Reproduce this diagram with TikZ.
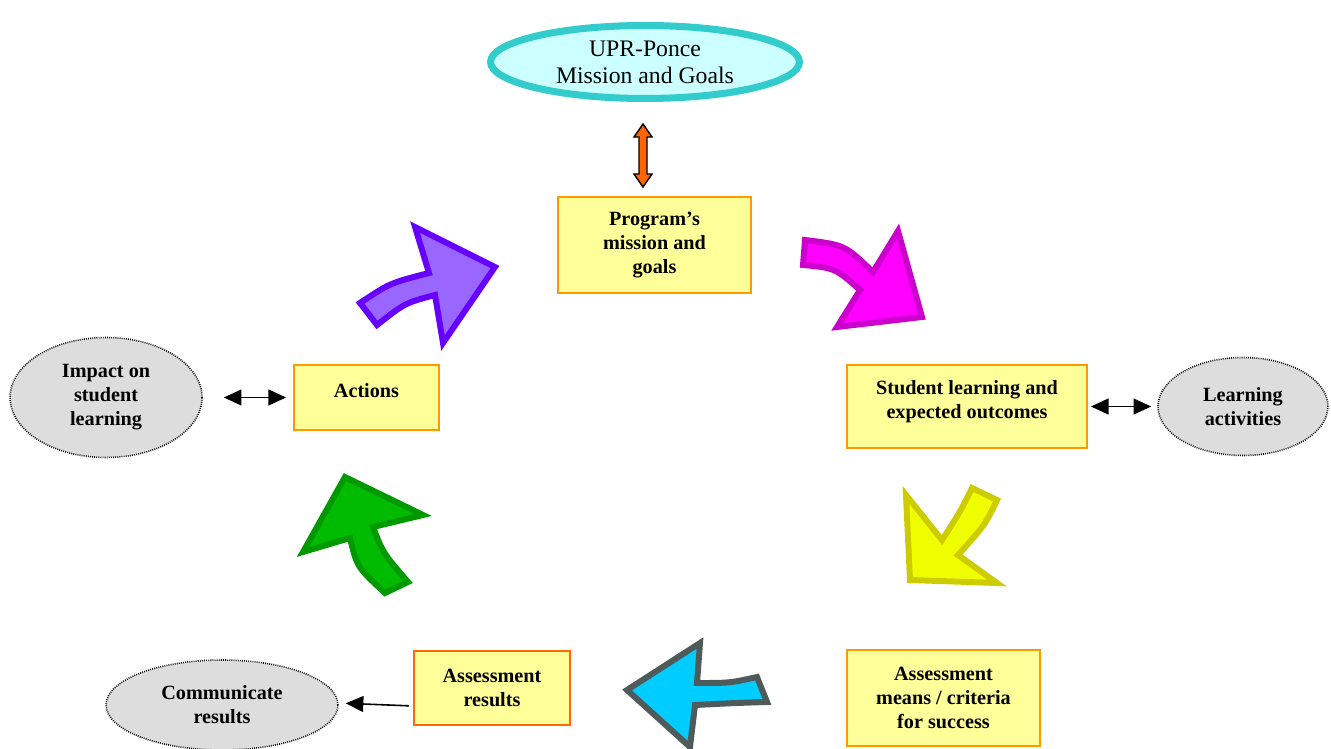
\documentclass[tikz,border=0pt]{standalone}
\usepackage{fontspec}
\setmainfont{Liberation Serif}
\usetikzlibrary{shapes,arrows,arrows.meta,positioning,calc}

\definecolor{boxfill}{HTML}{FFFF99}
\definecolor{boxline}{HTML}{FF9900}
\definecolor{resline}{HTML}{FF6A00}
\definecolor{sidefill}{HTML}{DDDDDD}
\definecolor{uprfill}{HTML}{CCFFFF}
\definecolor{uprline}{HTML}{33CCCC}
\definecolor{linkor}{HTML}{FF6600}
\definecolor{purpfill}{HTML}{9966FF}
\definecolor{purpline}{HTML}{6600FF}
\definecolor{magfill}{HTML}{FF00FF}
\definecolor{magline}{HTML}{CC00CC}
\definecolor{yelfill}{HTML}{F0FF00}
\definecolor{yelline}{HTML}{CCCC00}
\definecolor{cyanfill}{HTML}{00CCFF}
\definecolor{cyanline}{HTML}{4F5B5B}
\definecolor{grnfill}{HTML}{00BB00}
\definecolor{grnline}{HTML}{009900}

\begin{document}
\begin{tikzpicture}[x=0.02cm, y=-0.02cm, node distance=1.5cm, auto]

% Define styles
\tikzstyle{box} = [rectangle, draw=boxline, line width=1.1pt, fill=boxfill, align=center, inner sep=0pt, font=\bfseries\fontsize{11.5}{13.6}\selectfont]
\tikzstyle{side} = [ellipse, draw, line width=0.9pt, dash pattern=on 0.5pt off 0.7pt, fill=sidefill, align=center, inner sep=0pt, font=\bfseries\fontsize{11.5}{13.6}\selectfont]
\tikzstyle{link} = [line width=0.9pt, <->, >={Triangle[length=10pt, width=9pt]}]
\tikzstyle{single} = [line width=0.9pt, ->, >={Triangle[length=10pt, width=9pt]}]
\tikzstyle{bigarrow} = [line width=3.4pt, line join=miter]

\useasboundingbox (0,0) rectangle (1331,749);

% Nodes
\node [ellipse, draw=uprline, line width=4pt, fill=uprfill, minimum width=6.18cm, minimum height=1.46cm, inner sep=0pt, align=center, font=\fontsize{13.5}{15.3}\selectfont] (upr) at (645,62) {UPR-Ponce\\Mission and Goals};
\node [box, minimum width=3.86cm, minimum height=1.92cm] (prog) at (654.5,245) {Program's\\mission and\\goals};
\node [box, minimum width=4.8cm, minimum height=1.66cm, text depth=8pt] (stud) at (967,406.5) {Student learning and\\expected outcomes};
\node [box, minimum width=3.86cm, minimum height=1.92cm] (means) at (943.5,698) {Assessment\\means / criteria\\for success};
\node [box, draw=resline, minimum width=3.12cm, minimum height=1.48cm] (res) at (492,688) {Assessment\\results};
\node [box, minimum width=2.9cm, minimum height=1.3cm, text depth=8pt] (act) at (366.5,397.5) {Actions};

% Side ellipses
\node [side, right of=stud, node distance=5.52cm, minimum width=3.4cm, minimum height=1.96cm] (learn) {Learning\\activities};
\node [side, left of=act, node distance=5.21cm, minimum width=3.84cm, minimum height=2.4cm] (impact) {Impact on\\student\\learning};
\node [side, minimum width=4.64cm, minimum height=1.8cm] (comm) at (222,705) {Communicate\\results};

% Arrows
\coordinate (lt) at ($(upr.south)+(-2,22)$);
\coordinate (lb) at ($(lt |- prog.north)+(0,-9)$);
\draw [line width=0.8pt, fill=linkor, line join=miter] (lt) -- ($(lt)+(9,13)$) -- ($(lt)+(4,13)$) -- ($(lb)+(4,-13)$) -- ($(lb)+(9,-13)$) -- (lb) -- ($(lb)+(-9,-13)$) -- ($(lb)+(-4,-13)$) -- ($(lt)+(-4,13)$) -- ($(lt)+(-9,13)$) -- cycle;

\draw [link, shorten <=0.42cm, shorten >=0.14cm] (act.west -| impact.east) -- (act.west);
\draw [link, shorten <=0.06cm, shorten >=0.12cm] (stud.east |- learn.west) -- (learn.west);
\draw [single, shorten <=0.08cm, shorten >=0.14cm] ([yshift=-0.36cm]res.west) -- ([yshift=0.04cm]comm.east);

% Cycle arrows
\draw [bigarrow, draw=purpline, fill=purpfill] (360,303) .. controls (390,283) .. (429,273) -- (415,227) -- (495,267) -- (443,343) -- (435,295) .. controls (405,303) .. (377,325) -- cycle;
\draw [bigarrow, draw=magline, fill=magfill] (805,240) .. controls (845,245) .. (873,272) -- (898,231) -- (922,317) -- (837,327) -- (860,290) .. controls (835,268) .. (803,265) -- cycle;
\draw [bigarrow, draw=yelline, fill=yelfill] (972,488) .. controls (960,512) .. (942,540) -- (906,495) -- (910,580) -- (997,583) -- (958,555) .. controls (985,525) .. (997,500) -- cycle;
\draw [bigarrow, draw=cyanline, fill=cyanfill] (627,690) -- (700,643) -- (697,683) .. controls (730,683) .. (757,677) -- (767,702) .. controls (735,703) .. (695,705) -- (690,747) -- cycle;
\draw [bigarrow, draw=grnline, fill=grnfill] (345,477) -- (423,515) -- (373,527) .. controls (383,553) .. (408,582) -- (385,593) .. controls (357,567) .. (350,538) -- (303,552) -- cycle;

\end{tikzpicture}
\end{document}
